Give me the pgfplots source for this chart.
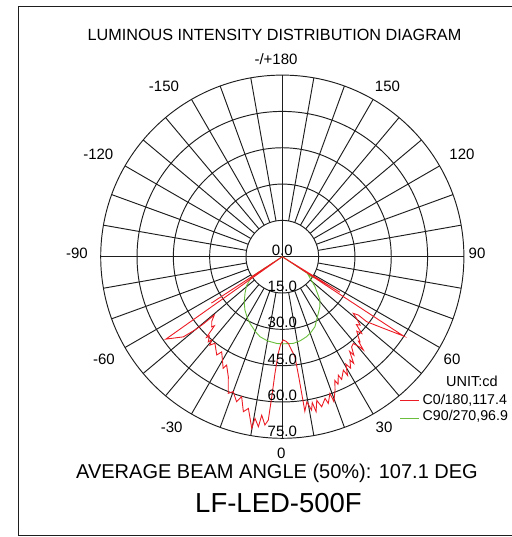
\documentclass[border=0pt]{standalone}
\usepackage{pgfplots}
\pgfplotsset{compat=1.18}
\usepgfplotslibrary{polar}
\usepackage{fontspec}
\setmainfont{Liberation Sans}
\definecolor{cred}{RGB}{236,28,36}
\definecolor{cgreen}{RGB}{105,190,60}
\definecolor{gridc}{RGB}{30,30,30}
\begin{document}
\begin{tikzpicture}[x=1pt,y=1pt]
\useasboundingbox (0,0) rectangle (511,537);
\draw[gridc, line width=1pt] (530,530) -- (18,530) -- (18,1) -- (530,1);
\begin{polaraxis}[
  at={(282.3pt,280.3pt)}, anchor=center,
  scale only axis, width=363.2pt, height=363.2pt,
  ymin=0, ymax=75, xmin=0, xmax=360,
  xtick={0,90,180,270}, ytick={15,30,45,60},
  xticklabels={}, yticklabels={},
  major tick length=0pt,
  grid=major,
  major grid style={gridc, line width=0.95pt},
  axis line style={gridc, line width=0.95pt},
  clip=false,
  unbounded coords=jump,
]
\addplot[gridc, line width=0.95pt, forget plot] coordinates {
(10,15)(10,75)(10,nan) (20,15)(20,75)(20,nan) (30,15)(30,75)(30,nan) (40,15)(40,75)(40,nan)
(50,15)(50,75)(50,nan) (60,15)(60,75)(60,nan) (70,15)(70,75)(70,nan) (80,15)(80,75)(80,nan)
(100,15)(100,75)(100,nan) (110,15)(110,75)(110,nan) (120,15)(120,75)(120,nan) (130,15)(130,75)(130,nan)
(140,15)(140,75)(140,nan) (150,15)(150,75)(150,nan) (160,15)(160,75)(160,nan) (170,15)(170,75)(170,nan)
(190,15)(190,75)(190,nan) (200,15)(200,75)(200,nan) (210,15)(210,75)(210,nan) (220,15)(220,75)(220,nan)
(230,15)(230,75)(230,nan) (240,15)(240,75)(240,nan) (250,15)(250,75)(250,nan) (260,15)(260,75)(260,nan)
(280,15)(280,75)(280,nan) (290,15)(290,75)(290,nan) (300,15)(300,75)(300,nan) (310,15)(310,75)(310,nan)
(320,15)(320,75)(320,nan) (330,15)(330,75)(330,nan) (340,15)(340,75)(340,nan) (350,15)(350,75)
};
% C90/270 (angle measured from downward, positive to the right)
\addplot[cgreen, line width=0.9pt, x filter/.expression={x-90}] coordinates {
(-90,0) (-58,0) (-56.8,15.1) (-51,19) (-45.5,21.6) (-40,24.5) (-35,26.9) (-30,29)
(-25.9,30.6) (-20,32.8) (-15.6,34.3) (-10,35.3) (-3.7,35.9) (0,36) (7.2,36.1)
(12,35.5) (17,34.5) (21,33.3) (25,31.9) (32.5,27.7) (37,25.8) (41,23.7) (47.5,18.3)
(54.9,13.1) (56.5,16) (58,0) (90,0)
};
% C0/180
\addplot[cred, line width=0.9pt, x filter/.expression={x-90}] coordinates {
(-90,0) (-60,0) (-56.8,35) (-57.5,0) (-54.7,58.9) (-51,52.6) (-50,47) (-49.6,43) (-49.4,37)
(-47.5,39.5) (-45.2,41.1) (-44.5,40) (-43.2,45.7) (-42.6,44.5) (-41,46.6) (-40.3,45.1)
(-39.3,47.2) (-37.9,45.3) (-33.7,48.8) (-32.5,46.6) (-27.9,52.2) (-27.2,50.3) (-24.2,54.4)
(-21.6,60.7) (-20,59.3) (-17.5,62.8) (-16.2,60.2) (-14.1,66) (-12.6,64.2) (-10.1,72)
(-9.6,67.7) (-8,70.9) (-7.4,66) (-5.9,69.9) (-4.9,67.7) (-4.3,58) (-3.6,48.3) (-2.4,40)
(-1,36) (0.7,34.4) (2.5,35) (4,35.9) (5.5,38.5) (7.2,41.7) (7.8,50) (8.3,64.5) (9.6,60.8)
(10.8,64.5) (11.6,61.5) (12.3,65.5) (13.5,61) (14.7,64.1) (16.8,61.1) (17.4,63.5) (19.2,59.8)
(19.6,63.5) (21.6,59.2) (23.0,55.5) (23.6,57.5) (25.3,54.1) (25.8,56.3) (28.3,53.2) (28.8,56)
(30.6,51.5) (31.5,54) (33.2,51) (33.8,53) (35.4,48) (36,50.3) (37.5,47) (39.3,46.3) (40.5,49)
(41,51) (42,47) (42.4,47.6) (43.5,45.6) (45,43.5) (46,45.6) (47.5,41.5) (48.7,42.8) (50.2,40)
(51.4,37.5) (52.5,39.6) (52.4,44) (54.7,51.2) (56.8,59.8) (57.5,0) (58.3,28) (59,0) (90,0)
};
\end{polaraxis}
\begin{scope}[every node/.style={inner sep=0pt, font=\fontsize{15}{18}\selectfont, anchor=base}]
% ring labels
\node at (282.3,281.7) {0.0};
\node at (282.3,245.5) {15.0};
\node at (282.3,209.2) {30.0};
\node at (282.3,172.9) {45.0};
\node at (282.3,136.6) {60.0};
\node at (282.3,100.3) {75.0};
% angle labels
\node at (276,472.6) {-/+180};
\node at (164,445.6) {-150};
\node at (387.5,445.6) {150};
\node at (98.3,377.6) {-120};
\node at (462,377.6) {120};
\node at (77,278.6) {-90};
\node at (477,278.6) {90};
\node at (104,172.1) {-60};
\node at (452,172.1) {60};
\node at (171.7,104.6) {-30};
\node at (384,104.6) {30};
\node at (281.2,78.7) {0};
% title and notes
\node[font=\fontsize{16.2}{19}\selectfont] at (274.5,496.3) {LUMINOUS INTENSITY DISTRIBUTION DIAGRAM};
\node[font=\fontsize{20}{24}\selectfont] at (277,58.4) {AVERAGE BEAM ANGLE (50\%): 107.1 DEG};
\node[font=\fontsize{27.5}{32}\selectfont] at (278.5,24) {LF-LED-500F};
% legend
\node[font=\fontsize{14.5}{17}\selectfont, anchor=base west] at (446,150.3) {UNIT:cd};
\draw[cred, line width=0.9pt] (400,136.3) -- (419,136.3);
\node[font=\fontsize{14.2}{17}\selectfont, anchor=base west] at (422.5,132) {C0/180,117.4};
\draw[cgreen, line width=0.9pt] (400,118.7) -- (419,118.7);
\node[font=\fontsize{14.2}{17}\selectfont, anchor=base west] at (422.5,116) {C90/270,96.9};
\end{scope}
\end{tikzpicture}
\end{document}
